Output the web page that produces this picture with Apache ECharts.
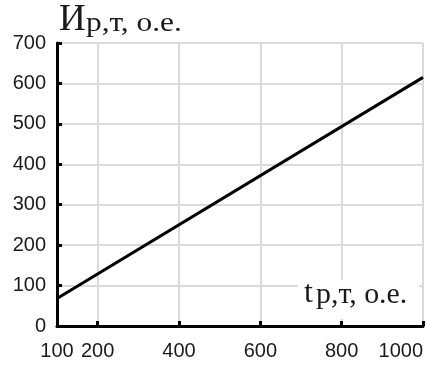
<!DOCTYPE html>
<html>
<head>
<meta charset="utf-8">
<script src="https://cdn.jsdelivr.net/npm/echarts@6/dist/echarts.min.js"></script>
<style>
  html, body { margin: 0; padding: 0; background: #fff; }
  #chart { width: 426px; height: 365px; }
</style>
</head>
<body>
<div id="chart"></div>
<script>
// данные
var tValues = [100, 1000];
var iValues = [68, 615];
var xLabels = [100, 200, 400, 600, 800, 1000];
var xTicks = [200, 400, 600, 800, 1000];
var yTitleMain = 'И';
var yTitleRest = 'р,т, о.е.';
var xTitleMain = 't';
var xTitleRest = 'р,т, о.е.';

var myChart = echarts.init(document.getElementById('chart'));

var serif = '"Liberation Serif", "DejaVu Serif", serif';
var sans = '"Liberation Sans", Arial, sans-serif';

var option = {
  animation: false,
  grid: {
    left: 57, right: 3, top: 43, bottom: 39,
    show: false
  },
  graphic: [
    // подпись оси Y
    { type: 'text', x: 59, y: 20, z: 10,
      style: { text: yTitleMain, fontFamily: serif, fontSize: 37, fill: '#1a1a1a', verticalAlign: 'middle' } },
    { type: 'text', x: 86, y: 24, scaleX: 1.12, z: 10,
      style: { text: yTitleRest, fontFamily: serif, fontSize: 28, fill: '#1a1a1a', verticalAlign: 'middle' } },
    // подпись оси X на белом фоне
    { type: 'rect', shape: { x: 298, y: 280, width: 121, height: 39 }, z: 9,
      style: { fill: '#fff' } },
    { type: 'text', x: 304, y: 294, z: 10,
      style: { text: xTitleMain, fontFamily: serif, fontSize: 32, fill: '#1a1a1a', verticalAlign: 'middle' } },
    { type: 'text', x: 316, y: 295, scaleX: 1.03, z: 10,
      style: { text: xTitleRest, fontFamily: serif, fontSize: 29, fill: '#1a1a1a', verticalAlign: 'middle' } }
  ],
  xAxis: {
    type: 'value',
    min: 100, max: 1000,
    axisLine: { lineStyle: { color: '#000', width: 3 } },
    axisTick: { inside: true, length: 5, lineStyle: { color: '#000', width: 3 }, customValues: xTicks },
    axisLabel: {
      customValues: xLabels,
      alignMaxLabel: 'right',
      formatter: function (v) { return String(v); },
      color: '#1a1a1a', fontSize: 20, fontFamily: sans, margin: 15
    },
    splitLine: { show: true, lineStyle: { color: '#dadada', width: 2 } }
  },
  yAxis: {
    type: 'value',
    min: 0, max: 700, interval: 100,
    axisLine: { show: true, lineStyle: { color: '#000', width: 3 } },
    axisTick: { show: true, inside: true, length: 5, lineStyle: { color: '#000', width: 3 } },
    axisLabel: { color: '#1a1a1a', fontSize: 20, fontFamily: sans, margin: 11 },
    splitLine: { show: true, lineStyle: { color: '#dadada', width: 2 } }
  },
  series: [
    {
      type: 'line',
      data: tValues.map(function (t, i) { return [t, iValues[i]]; }),
      showSymbol: false,
      lineStyle: { color: '#000', width: 3 },
      z: 3
    }
  ]
};
myChart.setOption(option);
</script>
</body>
</html>
